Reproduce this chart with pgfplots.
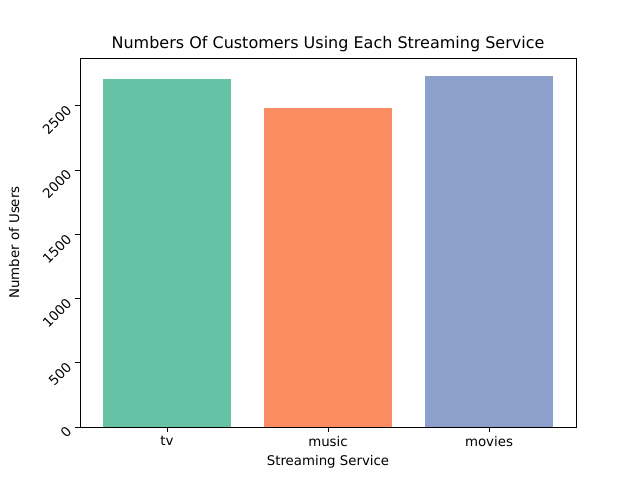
\documentclass[border=0pt]{standalone}
\usepackage{pgfplots}
\pgfplotsset{compat=1.18}
\usepackage{fontspec}
\setmainfont{DejaVu Sans}
\definecolor{c1}{HTML}{66C2A5}
\definecolor{c2}{HTML}{FC8D62}
\definecolor{c3}{HTML}{8DA0CB}
\begin{document}
\begin{tikzpicture}
\useasboundingbox (-60pt,-39.75pt) rectangle (420pt,320.25pt);
\begin{axis}[
  at={(0,0)}, anchor=south west,
  scale only axis, width=372pt, height=276.75pt,
  xmin=-0.54, xmax=2.54, ymin=0, ymax=2870,
  xtick={0,1,2}, xticklabels={tv,music,movies},
  ytick={0,500,1000,1500,2000,2500},
  /pgf/number format/assume math mode=true,
  /pgf/number format/1000 sep={},
  yticklabel={\rotatebox{45}{\pgfmathprintnumber{\tick}}},
  yticklabel style={anchor=north east, yshift=3pt, inner sep=2pt, font=\fontsize{10}{12}\selectfont},
  xticklabel style={font=\fontsize{10}{12}\selectfont},
  scaled y ticks=false,
  tick align=outside, tick style={black, thin}, major tick length=3.5pt,
  xtick pos=bottom, ytick pos=left,
  title={Numbers Of Customers Using Each Streaming Service},
  title style={font=\fontsize{12}{14}\selectfont, yshift=-5pt},
  xlabel={Streaming Service}, ylabel={Number of Users},
  label style={font=\fontsize{10}{12}\selectfont},
  ylabel style={at={(axis description cs:-0.133,0.5)}, anchor=center},
  axis line style={black, thin},
  ybar, bar width=0.8, bar shift=0pt,
]
\addplot[fill=c1, draw=none] coordinates {(0,2710)};
\addplot[fill=c2, draw=none] coordinates {(1,2484)};
\addplot[fill=c3, draw=none] coordinates {(2,2733)};
\end{axis}
\end{tikzpicture}
\end{document}
